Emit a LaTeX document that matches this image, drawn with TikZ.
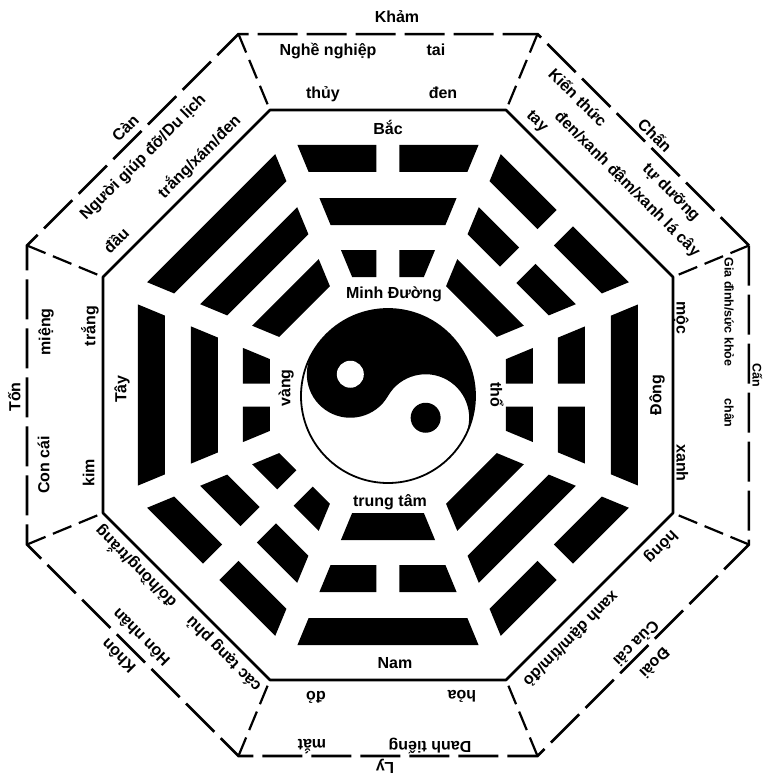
\documentclass[tikz,border=0pt]{standalone}
\usepackage{fontspec}
\setmainfont{Liberation Sans}
\usetikzlibrary{positioning}

% one line of a trigram: #1 = inner apothem, #2 = 1 for yang, 0 for yin
\newcommand{\yao}[2]{%
  \pgfmathsetmacro{\ra}{#1}\pgfmathsetmacro{\rb}{#1+27}%
  \pgfmathsetmacro{\wa}{0.4142*\ra-13}\pgfmathsetmacro{\wb}{0.4142*\rb-13}%
  \ifnum#2=1
    \fill (-\wa,\ra) -- (\wa,\ra) -- (\wb,\rb) -- (-\wb,\rb) -- cycle;
  \else
    \fill (-\wa,\ra) -- (-11.5,\ra) -- (-11.5,\rb) -- (-\wb,\rb) -- cycle;
    \fill (11.5,\ra) -- (\wa,\ra) -- (\wb,\rb) -- (11.5,\rb) -- cycle;
  \fi}

\begin{document}
\begin{tikzpicture}[x=1pt, y=1pt,
  lbl/.style={font=\fontsize{16}{18}\selectfont\bfseries, inner sep=0pt, text height=1.5ex, text depth=0.25ex},
  small/.style={lbl, font=\fontsize{12.5}{14}\selectfont\bfseries},
  rim/.style={line width=2.6pt, dash pattern=on 40pt off 9pt},
  spoke/.style={line width=2.2pt, dash pattern=on 20pt off 8pt},
  wall/.style={line width=2.6pt, line join=round}
]
  \useasboundingbox (-388,-385) rectangle (378,395);

  % octagons
  \foreach \k in {1,...,8} {
    \coordinate (o\k) at ({22.5+45*(\k-1)}:390.7);
    \coordinate (m\k) at ({22.5+45*(\k-1)}:308.5);
  }
  \draw[rim] (o1) -- (o2) -- (o3) -- (o4) -- (o5) -- (o6) -- (o7) -- (o8) -- cycle;
  \foreach \k in {1,...,8} \draw[spoke] (o\k) -- (m\k);
  \draw[wall] (m1) -- (m2) -- (m3) -- (m4) -- (m5) -- (m6) -- (m7) -- (m8) -- cycle;

  % trigrams: rotation / inner / middle / outer line
  \foreach \rot/\a/\b/\c in {0/0/1/0, -45/1/0/0, -90/0/0/1, -135/1/1/0,
                             180/1/0/1, 135/0/0/0, 90/0/1/1, 45/1/1/1} {
    \begin{scope}[rotate=\rot]
      \yao{118}{\a} \yao{170}{\b} \yao{223}{\c}
    \end{scope}
  }

  % yin-yang
  \begin{scope}[shift={(0,-1)}]
    \fill (150:87) arc[start angle=150, end angle=-30, radius=87]
      arc[start angle=-30, end angle=150, radius=43.5]
      arc[start angle=-30, end angle=-210, radius=43.5] -- cycle;
    \fill[white] (150:43.5) circle[radius=13.5];
    \fill (-30:43.5) circle[radius=15];
    \draw[line width=1.8pt] (0,0) circle[radius=87];
  \end{scope}

  \node[lbl] (mingtang) at (6,100) {Minh Đường};
  \node[lbl] (centre) at (2,-108) {trung tâm};
  \node[lbl, rotate=90] (vang) at (-101,7) {vàng};
  \node[lbl, rotate=-90] (tho) at (106,0) {thổ};
  \node[lbl] (bac) at (0,264) {Bắc};
  \node[lbl, rotate=90] (dong) at (270,0) {Đông};
  \node[lbl] (nam) at (7,-270) {Nam};

  % north
  \begin{scope}
    \node[lbl] (kham) at (9,376) {Khảm};
    \node[lbl] (khamjob) at (-60,343) {Nghề nghiệp};
    \node[lbl] (khambody) at (48,343) {tai};
    \node[lbl] (khamelem) at (-65,300) {thủy};
    \node[lbl] (khamcol) at (55,300) {đen};
  \end{scope}
  % north-east
  \begin{scope}[rotate=-45, transform shape]
    \node[lbl] (chan) at (5,370) {Chấn};
    \node[lbl] (chanjob) at (-76,342) {Kiến thức};
    \node[lbl] (chanjob2) at (57,342) {tự dưỡng};
    \node[lbl] (chanbody) at (-88,298) {tay};
    \node[lbl] (chancol) at (20,317) {đen/xanh đậm/xanh lá cây};
  \end{scope}
  % east
  \begin{scope}[rotate=-90, transform shape]
    \node[small] (can) at (-20,368) {Cấn};
    \node[small] (canjob) at (-83,340) {Gia đình/sức khỏe};
    \node[small] (canbody) at (18,340) {chân};
    \node[lbl] (canelem) at (-77,292) {mộc};
    \node[lbl] (cancol) at (68,292) {xanh};
  \end{scope}
  % south-east
  \begin{scope}[rotate=-135, transform shape]
    \node[lbl] (doai) at (1,376) {Đoài};
    \node[lbl] (doaijob) at (0,349) {Của cải};
    \node[lbl] (doaibody) at (-86,299) {hông};
    \node[lbl] (doaicol) at (43,300) {xanh đậm/tím/đỏ};
  \end{scope}
  % south
  \begin{scope}[rotate=180, transform shape]
    \node[lbl] (ly) at (3,371) {Ly};
    \node[lbl] (lyjob) at (-42,350) {Danh tiếng};
    \node[lbl] (lybody) at (76,348) {mắt};
    \node[lbl] (lyelem) at (-74,299) {hỏa};
    \node[lbl] (lycol) at (72,300) {đỏ};
  \end{scope}
  % south-west
  \begin{scope}[rotate=135, transform shape]
    \node[lbl] (khon) at (6,373) {Khôn};
    \node[lbl] (khonjob) at (3,344) {Hôn nhân};
    \node[lbl] (khonbody) at (-67,298) {các tạng phủ};
    \node[lbl] (khoncol) at (57,298) {đỏ/hồng/trắng};
  \end{scope}
  % west
  \begin{scope}[rotate=90, transform shape]
    \node[lbl] (ton) at (-2,371) {Tốn};
    \node[lbl] (tonjob) at (-70,342) {Con cái};
    \node[lbl] (tonbody) at (63,341) {miệng};
    \node[lbl] (tonelem) at (-78,297) {kim};
    \node[lbl] (toncol) at (69,296) {trắng};
    \node[lbl] (tay) at (6,265) {Tây};
  \end{scope}
  % north-west
  \begin{scope}[rotate=45, transform shape]
    \node[lbl] (canh) at (3,372) {Càn};
    \node[lbl] (canhjob) at (-5,340) {Người giúp đỡ/Du lịch};
    \node[lbl] (canhbody) at (-83,299) {đầu};
    \node[lbl] (canhcol) at (35,300) {trắng/xám/đen};
  \end{scope}
\end{tikzpicture}
\end{document}
